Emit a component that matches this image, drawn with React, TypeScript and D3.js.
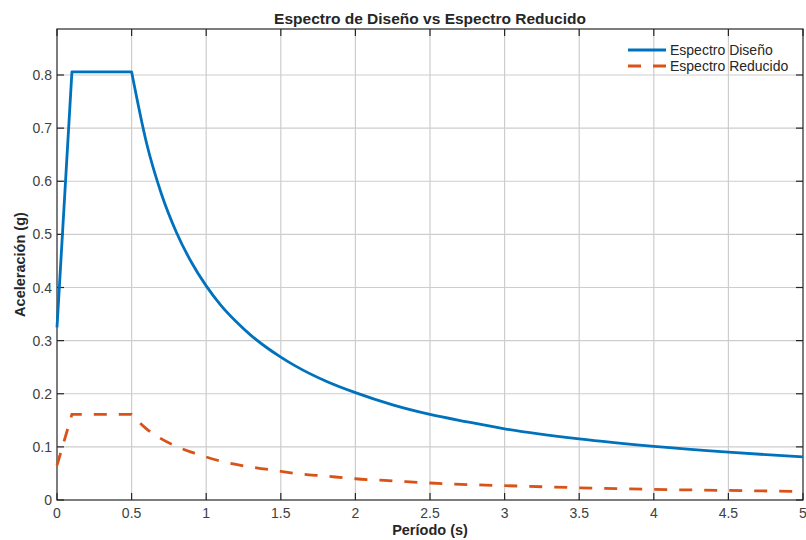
import React from "react";
import * as d3 from "d3";

// Periods (s) sampled along the spectra
const periods = [
  0, 0.1, 0.5, 0.6, 0.7, 0.8, 0.9, 1.0, 1.1, 1.2, 1.3, 1.4, 1.5, 1.6, 1.8, 2.0,
  2.25, 2.5, 2.75, 3.0, 3.5, 4.0, 4.5, 5.0,
];

// Design spectrum acceleration (g)
const designSa = [
  0.325, 0.806, 0.806, 0.672, 0.576, 0.504, 0.448, 0.403, 0.366, 0.336, 0.31,
  0.288, 0.269, 0.252, 0.224, 0.202, 0.179, 0.161, 0.147, 0.134, 0.115, 0.101,
  0.09, 0.081,
];

// Reduced spectrum acceleration (g)
const reducedSa = [
  0.065, 0.161, 0.161, 0.134, 0.115, 0.101, 0.09, 0.081, 0.073, 0.067, 0.062,
  0.058, 0.054, 0.05, 0.045, 0.04, 0.036, 0.032, 0.029, 0.027, 0.023, 0.02,
  0.018, 0.016,
];

const xTicks = [0, 0.5, 1, 1.5, 2, 2.5, 3, 3.5, 4, 4.5, 5];
const yTicks = [0, 0.1, 0.2, 0.3, 0.4, 0.5, 0.6, 0.7, 0.8];

const seriesNames = ["Espectro Diseño", "Espectro Reducido"];
const titleText = "Espectro de Diseño vs Espectro Reducido";
const xLabel = "Período (s)";
const yLabel = "Aceleración (g)";

const W = 806;
const H = 540;
const left = 57;
const right = 803;
const top = 29;
const bottom = 500;

const BLUE = "#0072BD";
const ORANGE = "#D95319";
const AXIS = "#262626";
const FONT = "'Liberation Sans', Arial, Helvetica, sans-serif";

export default function App() {
  const yMax = d3.max(designSa)! * 1.1;
  const x = d3.scaleLinear().domain([0, 5]).range([left, right]);
  const y = d3.scaleLinear().domain([0, yMax]).range([bottom, top]);

  type P = [number, number];
  const linear = d3
    .line<P>()
    .x((d) => x(d[0]))
    .y((d) => y(d[1]));
  const smooth = d3
    .line<P>()
    .x((d) => x(d[0]))
    .y((d) => y(d[1]))
    .curve(d3.curveMonotoneX);

  // straight ramp and plateau, then a smooth descending branch from the corner period
  const buildPath = (vals: number[]) => {
    const pts: P[] = periods.map((t, i) => [t, vals[i]]);
    const corner = periods.indexOf(0.5);
    const a = linear(pts.slice(0, corner + 1)) || "";
    const b = (smooth(pts.slice(corner)) || "").replace(/^M/, "L");
    return a + b;
  };

  const tickLen = 7;

  return (
    <svg
      width={W}
      height={H}
      style={{ position: "absolute", left: 0, top: 0, background: "#fff" }}
      fontFamily={FONT}
    >
      <rect x={0} y={0} width={W} height={H} fill="#fff" />
      {/* grid */}
      <g stroke="#cdcdcd" strokeWidth={1.2}>
        {xTicks.slice(1, -1).map((t) => (
          <line key={"gx" + t} x1={x(t)} x2={x(t)} y1={top} y2={bottom} />
        ))}
        {yTicks.slice(1).map((t) => (
          <line key={"gy" + t} x1={left} x2={right} y1={y(t)} y2={y(t)} />
        ))}
      </g>

      {/* axes box and ticks */}
      <g stroke={AXIS} strokeWidth={1.2} fill="none">
        <rect x={left} y={top} width={right - left} height={bottom - top} />
        {xTicks.map((t) => (
          <g key={"tx" + t}>
            <line x1={x(t)} x2={x(t)} y1={bottom} y2={bottom - tickLen} />
            <line x1={x(t)} x2={x(t)} y1={top} y2={top + tickLen} />
          </g>
        ))}
        {yTicks.map((t) => (
          <g key={"ty" + t}>
            <line x1={left} x2={left + tickLen} y1={y(t)} y2={y(t)} />
            <line x1={right} x2={right - tickLen} y1={y(t)} y2={y(t)} />
          </g>
        ))}
      </g>

      {/* spectra */}
      <path
        d={buildPath(designSa)}
        fill="none"
        stroke={BLUE}
        strokeWidth={2.8}
        strokeLinejoin="round"
      />
      <path
        d={buildPath(reducedSa)}
        fill="none"
        stroke={ORANGE}
        strokeWidth={2.8}
        strokeDasharray="13 12"
      />

      {/* tick labels */}
      <g fill="#404040" fontSize={14}>
        {xTicks.map((t) => (
          <text key={"lx" + t} x={x(t)} y={518} textAnchor="middle">
            {d3.format("~g")(t)}
          </text>
        ))}
        {yTicks.map((t) => (
          <text
            key={"ly" + t}
            x={left - 5}
            y={y(t)}
            textAnchor="end"
            dominantBaseline="central"
          >
            {d3.format("~g")(t)}
          </text>
        ))}
      </g>

      {/* title and axis labels */}
      <text
        x={(left + right) / 2}
        y={24}
        textAnchor="middle"
        fontSize={15.5}
        fontWeight="bold"
        fill={AXIS}
      >
        {titleText}
      </text>
      <text
        x={(left + right) / 2}
        y={535}
        textAnchor="middle"
        fontSize={14.5}
        fontWeight="bold"
        fill={AXIS}
      >
        {xLabel}
      </text>
      <text
        transform={`translate(25, ${(top + bottom) / 2}) rotate(-90)`}
        textAnchor="middle"
        fontSize={14.5}
        fontWeight="bold"
        fill={AXIS}
      >
        {yLabel}
      </text>

      {/* legend */}
      <g fontSize={14} fill={AXIS}>
        <line x1={628} x2={666} y1={50} y2={50} stroke={BLUE} strokeWidth={2.8} />
        <text x={670} y={50} dominantBaseline="central">
          {seriesNames[0]}
        </text>
        <line
          x1={628}
          x2={666}
          y1={66}
          y2={66}
          stroke={ORANGE}
          strokeWidth={2.8}
          strokeDasharray="13 12"
        />
        <text x={670} y={66} dominantBaseline="central">
          {seriesNames[1]}
        </text>
      </g>
    </svg>
  );
}
